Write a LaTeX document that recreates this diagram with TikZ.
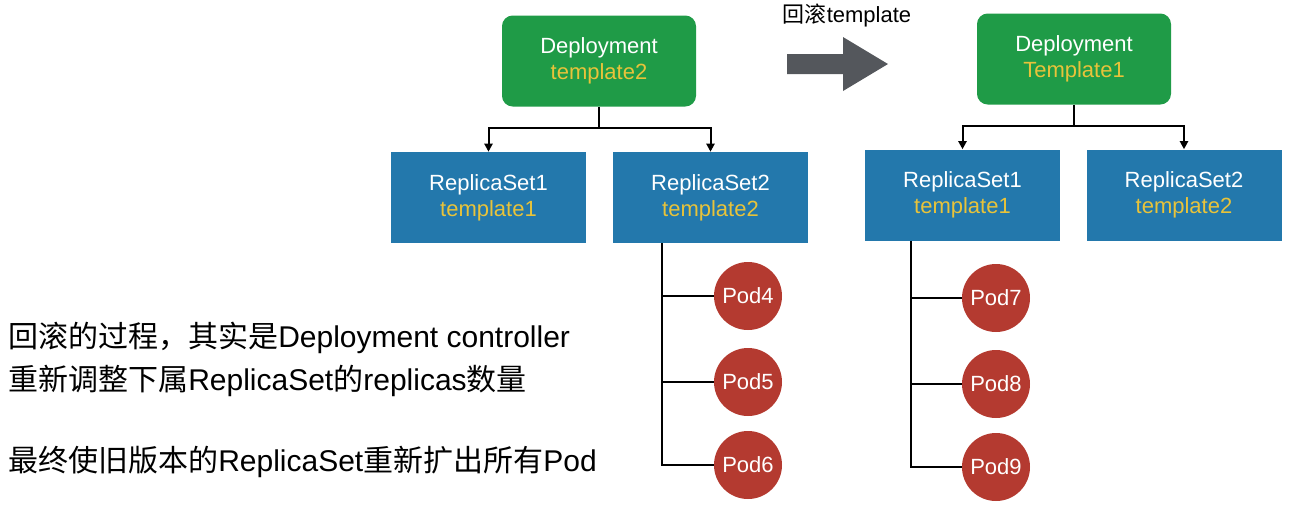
\documentclass[tikz,border=0pt]{standalone}
\usepackage{fontspec}
\setmainfont{Liberation Sans}
\newfontfamily\cjk{Noto Sans CJK SC}
\newcommand\zh[1]{{\cjk #1}}
\usetikzlibrary{arrows.meta}
\definecolor{dgreen}{HTML}{1F9B47}
\definecolor{rsblue}{HTML}{2378AC}
\definecolor{podred}{HTML}{B43A30}
\definecolor{tyellow}{HTML}{E8C33A}
\definecolor{agray}{HTML}{54575C}
\begin{document}
\begin{tikzpicture}[x=0.75pt,y=-0.75pt,
  txt/.style={font=\fontsize{16.5}{19.5}\selectfont, text=white, align=center},
  depbox/.style={txt, fill=dgreen, rounded corners=8pt, minimum width=145.5pt, minimum height=68.25pt, inner sep=0pt},
  rsbox/.style={txt, fill=rsblue, minimum width=146.25pt, minimum height=68.25pt, inner sep=0pt},
  pod/.style={txt, circle, fill=podred, minimum size=51pt, inner sep=0pt},
  conn/.style={line width=1.5pt, black},
  arr/.style={conn, -{Triangle[length=6pt,width=6pt]}},
  note/.style={font=\fontsize{22.5}{27}\selectfont, anchor=west, inner sep=0pt, text=black}
]
\useasboundingbox (0,0) rectangle (1290,526);
\newcommand\yl[1]{\textcolor{tyellow}{#1}}

% left tree
\node[depbox] (dl) at (599,61) {Deployment\\\yl{template2}};
\node[rsbox] (rs1l) at (488.5,197.5) {ReplicaSet1\\\yl{template1}};
\node[rsbox] (rs2l) at (710.5,197.5) {ReplicaSet2\\\yl{template2}};
\node[pod] (p4) at (748,296) {Pod4};
\node[pod] (p5) at (748,382) {Pod5};
\node[pod] (p6) at (748,465) {Pod6};

\draw[conn] (dl.south) -- ++(0,21) coordinate (jl);
\draw[arr] (jl) -| (rs1l.north);
\draw[arr] (jl) -| (rs2l.north);
\coordinate (vl) at ([xshift=-36.75pt]rs2l.south);
\draw[conn] (vl) |- (p6.west);
\draw[conn] (p4.west) -- (p4.west -| vl);
\draw[conn] (p5.west) -- (p5.west -| vl);

% big arrow
\node[font=\fontsize{16.5}{19.5}\selectfont, inner sep=0pt] (lab) at (847,15) {\zh{回滚}template};
\fill[agray] (787,54) -- (843,54) -- (843,37) -- (888,64) -- (843,91) -- (843,74) -- (787,74) -- cycle;

% right tree
\node[depbox] (dr) at (1074,59) {Deployment\\\yl{Template1}};
\node[rsbox] (rs1r) at (962.5,195) {ReplicaSet1\\\yl{template1}};
\node[rsbox] (rs2r) at (1184,195) {ReplicaSet2\\\yl{template2}};
\node[pod] (p7) at (996,298) {Pod7};
\node[pod] (p8) at (996,384) {Pod8};
\node[pod] (p9) at (996,467) {Pod9};

\draw[conn] (dr.south) -- ++(0,21) coordinate (jr);
\draw[arr] (jr) -| (rs1r.north);
\draw[arr] (jr) -| (rs2r.north);
\coordinate (vr) at ([xshift=-39pt]rs1r.south);
\draw[conn] (vr) |- (p9.west);
\draw[conn] (p7.west) -- (p7.west -| vr);
\draw[conn] (p8.west) -- (p8.west -| vr);

% notes
\node[note] (n1) at (8,338) {\zh{回滚的过程，其实是}Deployment controller};
\node[note] (n2) at (8,381) {\zh{重新调整下属}ReplicaSet\zh{的}replicas\zh{数量}};
\node[note] (n3) at (8,462) {\zh{最终使旧版本的}ReplicaSet\zh{重新扩出所有}Pod};
\end{tikzpicture}
\end{document}
